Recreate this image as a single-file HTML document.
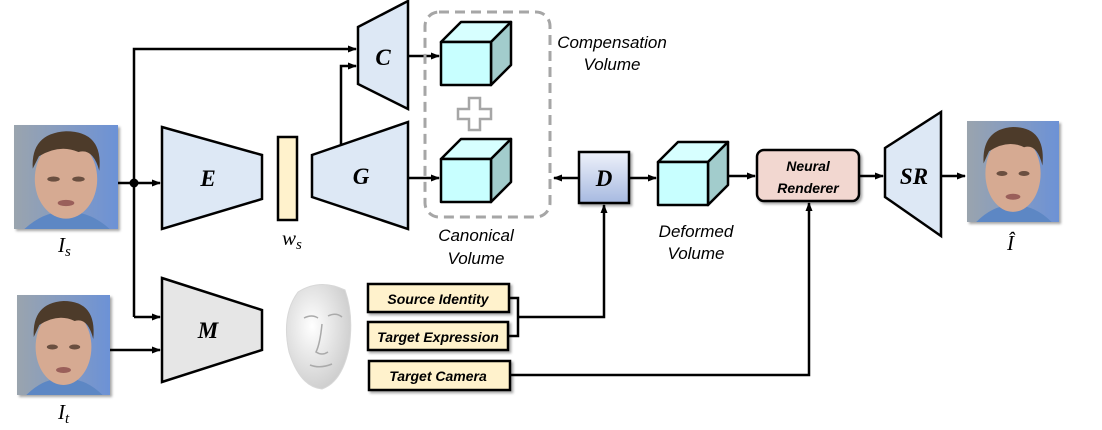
<!DOCTYPE html>
<html><head><meta charset="utf-8"><style>
html,body{margin:0;padding:0;background:#fff;}
svg{display:block;}
text{font-family:"Liberation Sans",sans-serif;}
.lbl{font-family:"Liberation Sans",sans-serif;font-style:italic;font-size:17px;}
.math{font-family:"Liberation Serif",serif;font-style:italic;font-size:21px;}
.bold{font-family:"Liberation Serif",serif;font-style:italic;font-weight:bold;font-size:23px;}
.box{font-family:"Liberation Sans",sans-serif;font-style:italic;font-weight:bold;font-size:14px;}
</style></head><body>
<svg width="1102" height="430" viewBox="0 0 1102 430" xmlns="http://www.w3.org/2000/svg">
<defs>
<marker id="ar" markerWidth="9" markerHeight="9" refX="8" refY="4.5" orient="auto" markerUnits="userSpaceOnUse">
<path d="M0,1 L9,4.5 L0,8 z" fill="#000"/></marker>
<linearGradient id="bg" x1="0" x2="1" y1="0" y2="0"><stop offset="0" stop-color="#9aa4ae"/><stop offset="0.6" stop-color="#7f99c6"/><stop offset="1" stop-color="#6c92d6"/></linearGradient>
<linearGradient id="dg" x1="0" x2="0" y1="0" y2="1"><stop offset="0" stop-color="#eef1fa"/><stop offset="1" stop-color="#a6b9e0"/></linearGradient>
<radialGradient id="fg" cx="0.4" cy="0.4" r="0.7"><stop offset="0" stop-color="#ffffff"/><stop offset="1" stop-color="#c8c8c8"/></radialGradient>
<filter id="sh" x="-10%" y="-10%" width="130%" height="140%"><feDropShadow dx="2" dy="2" stdDeviation="1.2" flood-color="#000" flood-opacity="0.35"/></filter>
<g id="face">
<rect x="0" y="0" width="100" height="100" fill="url(#bg)"/>
<path d="M10,100 Q30,82 50,84 Q72,82 92,100 z" fill="#5d87c4"/>
<ellipse cx="50" cy="52" rx="30" ry="38" fill="#d6aa92"/>
<path d="M18,42 Q16,8 50,6 Q86,6 82,44 Q76,22 62,26 Q44,18 24,30 z" fill="#4d3b2c"/>
<ellipse cx="38" cy="52" rx="6" ry="2.5" fill="#6b4f40"/>
<ellipse cx="62" cy="52" rx="6" ry="2.5" fill="#6b4f40"/>
<ellipse cx="50" cy="75" rx="8" ry="3" fill="#9a5e5a"/>
</g>
</defs>

<g filter="url(#sh)"><use href="#face" transform="translate(14,125) scale(1.04)"/></g>
<g filter="url(#sh)"><use href="#face" transform="translate(17,295) scale(0.93,1)"/></g>
<g filter="url(#sh)"><use href="#face" transform="translate(967,121) scale(0.92,1.01)"/></g>
<text class="math" x="58" y="252">I<tspan font-size="15" dy="4">s</tspan></text>
<text class="math" x="58" y="419">I<tspan font-size="15" dy="4">t</tspan></text>
<text class="math" x="1007" y="250">Î</text>

<g stroke="#000" stroke-width="2.5" fill="none">
<line x1="118" y1="183" x2="160" y2="183" marker-end="url(#ar)"/>
<polyline points="134,317 134,49 356,49" marker-end="url(#ar)"/>
<line x1="134" y1="317" x2="160" y2="317" marker-end="url(#ar)"/>
<line x1="110" y1="350" x2="160" y2="350" marker-end="url(#ar)"/>
<polyline points="341,146 341,66 356,66" marker-end="url(#ar)"/>
<line x1="408" y1="56" x2="439" y2="56" marker-end="url(#ar)"/>
<line x1="408" y1="178" x2="439" y2="178" marker-end="url(#ar)"/>
<line x1="579" y1="178" x2="554" y2="178" marker-end="url(#ar)"/>
<line x1="629" y1="178" x2="656" y2="178" marker-end="url(#ar)"/>
<line x1="728" y1="176" x2="755" y2="176" marker-end="url(#ar)"/>
<line x1="859" y1="176" x2="883" y2="176" marker-end="url(#ar)"/>
<line x1="941" y1="176" x2="965" y2="176" marker-end="url(#ar)"/>
<polyline points="509,298 518,298 518,336 508,336"/>
<polyline points="518,317 604,317 604,205" marker-end="url(#ar)"/>
<polyline points="510,375 809,375 809,203" marker-end="url(#ar)"/>
</g>
<circle cx="134" cy="183" r="4.5" fill="#000"/>

<polygon points="162,127 262,155 262,199 162,229" fill="#dde8f5" stroke="#000" stroke-width="2.5"/>
<text class="bold" x="208" y="186" text-anchor="middle">E</text>
<rect x="278" y="137" width="19" height="83" fill="#fff2cc" stroke="#000" stroke-width="2.5"/>
<text class="math" x="282" y="245">w<tspan font-size="15" dy="4">s</tspan></text>
<polygon points="312,155 408,122 408,229 312,197" fill="#dde8f5" stroke="#000" stroke-width="2.5"/>
<text class="bold" x="361" y="184" text-anchor="middle">G</text>
<polygon points="358,27 408,1 408,109 358,84" fill="#dde8f5" stroke="#000" stroke-width="2.5"/>
<text class="bold" x="383" y="65" text-anchor="middle">C</text>
<polygon points="162,278 262,310 262,350 162,382" fill="#e6e6e6" stroke="#000" stroke-width="2.5"/>
<text class="bold" x="208" y="338" text-anchor="middle">M</text>
<polygon points="885,148 941,112 941,236 885,197" fill="#dde8f5" stroke="#000" stroke-width="2.5"/>
<text class="bold" x="914" y="184" text-anchor="middle">SR</text>

<rect x="425" y="12" width="125" height="205" rx="14" fill="none" stroke="#a6a6a6" stroke-width="3" stroke-dasharray="10,6"/>

<g stroke="#000" stroke-width="2.5" stroke-linejoin="round">
<g id="cube">
<polygon points="441,42 461,22 511,22 491,42" fill="#d7ffff"/>
<polygon points="491,42 511,22 511,65 491,85" fill="#a2cccc"/>
<rect x="441" y="42" width="50" height="43" fill="#c8ffff"/>
</g>
<use href="#cube" transform="translate(0,117)"/>
<use href="#cube" transform="translate(217,120)"/>
</g>
<path d="M469,98 h11 v11 h11 v10 h-11 v11 h-11 v-11 h-11 v-10 h11 z" fill="#fff" stroke="#a6a6a6" stroke-width="2.5"/>
<text class="lbl" x="476" y="241" text-anchor="middle">Canonical</text>
<text class="lbl" x="476" y="264" text-anchor="middle">Volume</text>
<text class="lbl" x="612" y="48" text-anchor="middle">Compensation</text>
<text class="lbl" x="612" y="70" text-anchor="middle">Volume</text>
<text class="lbl" x="696" y="237" text-anchor="middle">Deformed</text>
<text class="lbl" x="696" y="259" text-anchor="middle">Volume</text>

<rect x="579" y="152" width="50" height="51" fill="url(#dg)" stroke="#000" stroke-width="2.5" filter="url(#sh)"/>
<text class="bold" x="604" y="186" text-anchor="middle">D</text>

<rect x="757" y="150" width="102" height="51" rx="7" fill="#f2d7d0" stroke="#000" stroke-width="2.5" filter="url(#sh)"/>
<text class="box" x="808" y="171" text-anchor="middle">Neural</text>
<text class="box" x="808" y="193" text-anchor="middle">Renderer</text>

<g filter="url(#sh)" stroke="#000" stroke-width="2.5" fill="#fff2cc">
<rect x="368" y="284" width="141" height="28"/>
<rect x="368" y="322" width="140" height="28"/>
<rect x="369" y="361" width="141" height="29"/>
</g>
<text class="box" x="438" y="304" text-anchor="middle">Source Identity</text>
<text class="box" x="438" y="342" text-anchor="middle">Target Expression</text>
<text class="box" x="438" y="381" text-anchor="middle">Target Camera</text>

<path d="M298,292 Q320,278 345,290 Q354,315 349,348 Q342,382 322,389 Q300,387 289,352 Q281,315 298,292 z" fill="url(#fg)" stroke="#d8d8d8"/>
<path d="M304,318 q8,-4 14,0 M328,316 q8,-4 14,1 M322,324 q-2,20 -6,28 q6,4 12,0 M310,365 q10,4 22,-1" stroke="#aaa" stroke-width="1.5" fill="none"/>
</svg>
</body></html>
